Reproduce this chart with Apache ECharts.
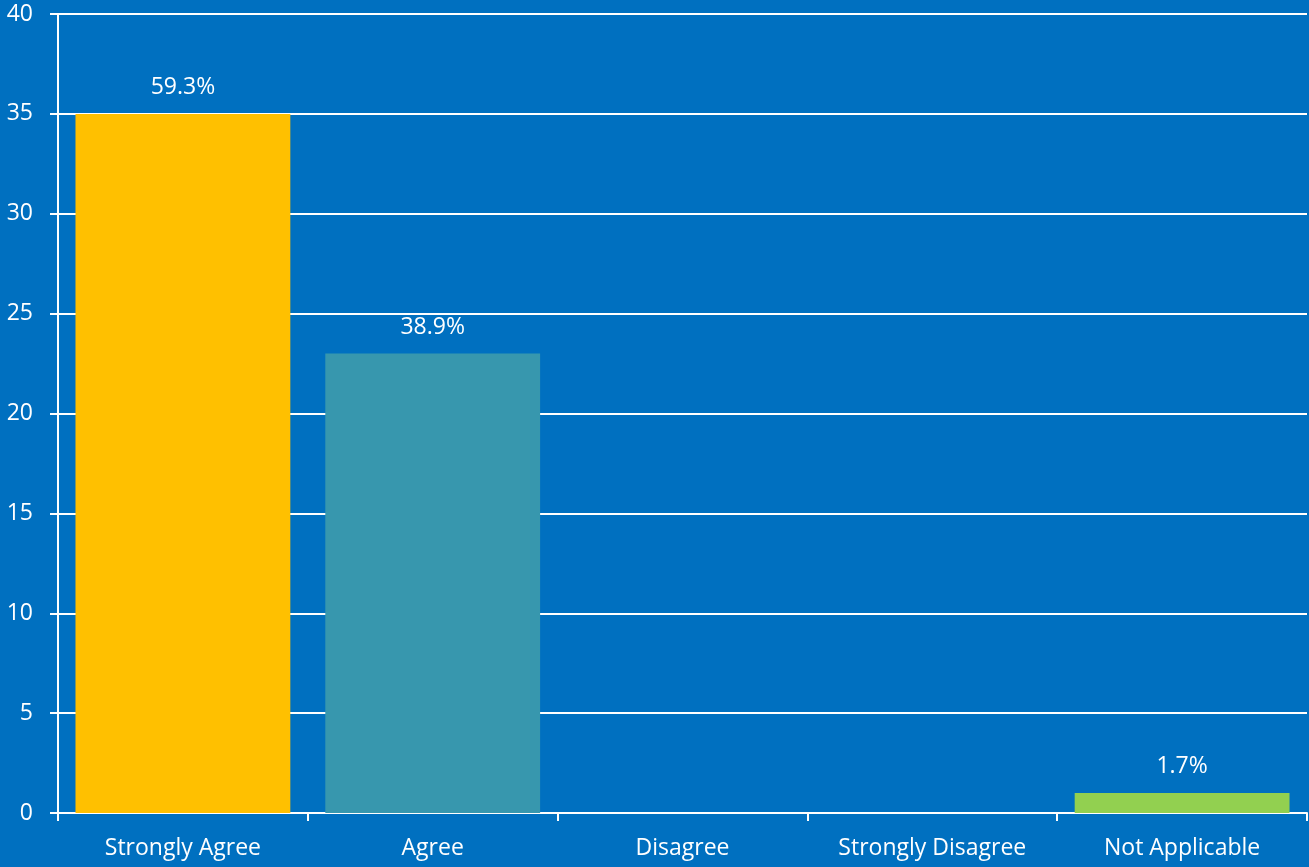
<!DOCTYPE html>
<html>
<head>
<meta charset="utf-8">
<script src="https://cdn.jsdelivr.net/npm/echarts@6/dist/echarts.min.js"></script>
<style>
  html, body { margin: 0; padding: 0; background: #0070C0; }
  #chart { width: 1309px; height: 867px; }
</style>
</head>
<body>
<div id="chart"></div>
<script>
// categories + counts, percent labels shown above bars
const categories = ["Strongly Agree", "Agree", "Disagree", "Strongly Disagree", "Not Applicable"];
const counts = [35, 23, 0, 0, 1];
const percentLabels = ["59.3%", "38.9%", "", "", "1.7%"];
const barColors = ["#FFC000", "#3797AE", "#4BACC6", "#8064A2", "#92D050"];

const chart = echarts.init(document.getElementById("chart"));
const fontFamily = "'Open Sans', sans-serif";

chart.setOption({
  backgroundColor: "#0070C0",
  animation: false,
  grid: { left: 58, right: 2, top: 14, bottom: 54, containLabel: false },
  xAxis: {
    type: "category",
    data: categories,
    axisLine: { lineStyle: { color: "#FFFFFF", width: 2 } },
    axisTick: { show: true, length: 8, lineStyle: { color: "#FFFFFF", width: 2 } },
    axisLabel: { color: "#FFFFFF", fontSize: 23, fontFamily: fontFamily, margin: 24 }
  },
  yAxis: {
    type: "value",
    min: 0,
    max: 40,
    interval: 5,
    axisLine: { show: true, lineStyle: { color: "#FFFFFF", width: 2 } },
    axisTick: { show: true, length: 8, lineStyle: { color: "#FFFFFF", width: 2 } },
    axisLabel: { color: "#FFFFFF", fontSize: 23, fontFamily: fontFamily, margin: 25 },
    splitLine: { lineStyle: { color: "#FFFFFF", width: 2 } }
  },
  series: [{
    type: "bar",
    barWidth: "86%",
    data: counts.map((v, i) => ({ value: v, itemStyle: { color: barColors[i] } })),
    label: {
      show: true,
      position: "top",
      distance: 15,
      color: "#FFFFFF",
      fontSize: 23,
      fontFamily: fontFamily,
      formatter: p => percentLabels[p.dataIndex]
    }
  }]
});
</script>
</body>
</html>
